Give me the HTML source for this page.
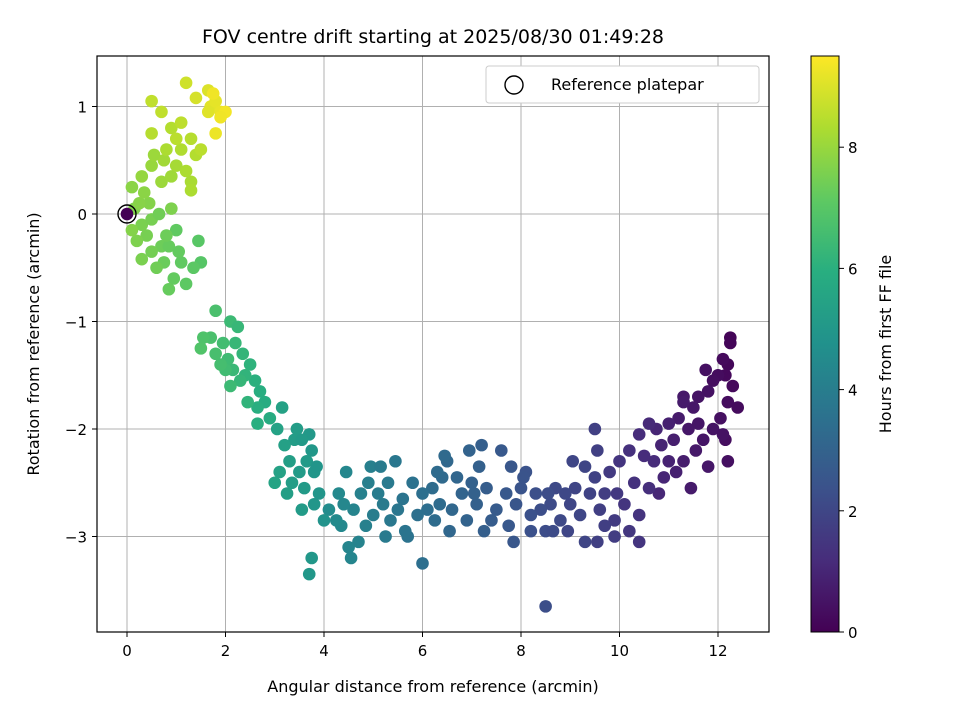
<!DOCTYPE html>
<html><head><meta charset="utf-8"><style>
body{margin:0;background:#fff}
svg{font-family:"DejaVu Sans","Liberation Sans",sans-serif}
</style></head><body>
<svg id="chart" width="960" height="720" viewBox="0 0 960 720">
<defs><linearGradient id="vir" x1="0" y1="1" x2="0" y2="0">
<stop offset="0" stop-color="#440154"/><stop offset="0.125" stop-color="#472d7b"/><stop offset="0.25" stop-color="#3b528b"/><stop offset="0.375" stop-color="#2c728e"/><stop offset="0.5" stop-color="#21918c"/><stop offset="0.625" stop-color="#28ae80"/><stop offset="0.75" stop-color="#5ec962"/><stop offset="0.875" stop-color="#addc30"/><stop offset="1" stop-color="#fde725"/></linearGradient></defs>
<text x="433" y="43" font-size="19" text-anchor="middle">FOV centre drift starting at 2025/08/30 01:49:28</text>
<g id="grid"></g><g id="pts"></g>
<rect x="97" y="56" width="672" height="576" fill="none" stroke="#000" stroke-width="1.2"/>
<g id="axes"></g>
<text x="433" y="692" font-size="16" text-anchor="middle">Angular distance from reference (arcmin)</text>
<text transform="translate(39,344) rotate(-90)" font-size="16" text-anchor="middle">Rotation from reference (arcmin)</text>
<g>
<rect x="486" y="66" width="273" height="37" rx="3" fill="#fff" stroke="#ccc"/>
<circle cx="514" cy="85" r="9" fill="none" stroke="#000" stroke-width="1.4"/>
<text x="551" y="90" font-size="16">Reference platepar</text></g>
<rect x="811" y="56" width="28" height="576" fill="url(#vir)" stroke="#000" stroke-width="1"/>
<g id="cbax"></g>
<text transform="translate(891,344) rotate(-90)" font-size="16" text-anchor="middle">Hours from first FF file</text>
</svg>
<script>
const xs=[12.25,12.25,12.2,12.15,12.3,12.1,12.0,11.9,12.2,12.4,11.75,11.8,11.6,12.05,11.9,12.15,11.5,11.3,11.2,11.4,11.7,12.2,11.55,11.1,11.0,11.3,11.0,10.85,11.45,11.8,12.1,11.6,10.9,11.15,10.75,11.3,
10.6,10.4,10.7,10.5,10.8,10.2,10.3,10.0,10.4,10.2,10.4,9.95,9.8,9.7,9.9,9.6,9.55,9.5,9.9,9.55,9.7,10.1,10.6,9.4,9.3,9.5,9.2,9.3,
9.1,9.0,9.05,8.9,8.8,8.7,8.6,8.5,8.55,8.4,8.3,8.2,8.1,8.0,8.2,8.5,7.9,7.85,7.8,7.7,7.75,8.05,8.65,8.95,
7.6,7.5,7.4,7.3,7.2,7.1,7.15,7.0,6.9,6.95,6.8,6.7,6.6,6.5,6.4,6.35,6.55,6.3,6.2,6.1,7.25,6.45,6.25,7.05,
6.0,5.9,5.8,5.7,5.6,5.5,5.45,5.35,5.3,5.2,5.1,5.0,4.95,4.9,4.85,4.75,4.7,4.6,4.5,4.45,4.4,4.35,4.3,5.25,6.0,5.65,5.15,4.55,4.25,4.1,
4.0,3.9,3.8,3.75,3.7,3.65,3.6,3.5,3.4,3.35,3.3,3.25,3.2,3.1,3.05,3.0,3.55,3.45,3.15,3.7,3.75,3.8,3.55,3.85,
2.9,2.8,2.7,2.65,2.65,2.6,2.5,2.4,2.35,2.3,2.2,2.15,2.1,2.05,2.0,1.95,2.25,1.9,1.8,1.7,1.55,1.5,1.8,2.45,2.1,
1.5,1.45,1.35,1.2,1.1,0.95,0.85,0.75,0.7,0.6,0.5,0.4,0.3,0.2,0.15,0.1,0.3,0.5,0.85,1.0,0.65,0.9,0.45,0.25,0.1,0.35,1.05,0.8,
0.3,0.5,0.7,0.9,0.75,1.0,1.3,0.8,1.1,1.4,1.3,0.9,1.0,1.5,1.3,0.5,0.5,1.1,0.7,1.2,1.4,1.65,1.7,1.8,1.9,1.75,2.0,1.9,1.8,1.65,1.2,0.55,0];
const ys=[-1.15,-1.2,-1.4,-1.5,-1.6,-1.35,-1.5,-1.55,-1.75,-1.8,-1.45,-1.65,-1.7,-1.9,-2.0,-2.1,-1.8,-1.7,-1.9,-2.0,-2.1,-2.3,-2.2,-2.1,-1.95,-2.3,-2.3,-2.15,-2.55,-2.35,-2.05,-1.95,-2.45,-2.4,-2.0,-1.75,
-1.95,-2.05,-2.3,-2.25,-2.6,-2.2,-2.5,-2.3,-2.8,-2.95,-3.05,-2.6,-2.4,-2.6,-2.85,-2.75,-2.2,-2.45,-3.0,-3.05,-2.9,-2.7,-2.55,-2.6,-2.35,-2.0,-2.8,-3.05,
-2.55,-2.7,-2.3,-2.6,-2.85,-2.55,-2.7,-2.95,-2.6,-2.75,-2.6,-2.8,-2.4,-2.55,-2.95,-3.65,-2.7,-3.05,-2.35,-2.6,-2.9,-2.45,-2.95,-2.95,
-2.2,-2.75,-2.85,-2.55,-2.15,-2.7,-2.35,-2.5,-2.85,-2.2,-2.6,-2.45,-2.75,-2.3,-2.45,-2.7,-2.95,-2.4,-2.55,-2.75,-2.95,-2.25,-2.85,-2.6,
-2.6,-2.8,-2.5,-3.0,-2.65,-2.75,-2.3,-2.85,-2.5,-2.7,-2.6,-2.8,-2.35,-2.5,-2.9,-2.6,-3.05,-2.75,-3.1,-2.4,-2.7,-2.9,-2.6,-3.0,-3.25,-2.95,-2.35,-3.2,-2.85,-2.75,
-2.85,-2.6,-2.4,-2.2,-2.05,-2.3,-2.55,-2.4,-2.1,-2.5,-2.3,-2.6,-2.15,-2.4,-2.0,-2.5,-2.75,-2.0,-1.8,-3.35,-3.2,-2.7,-2.1,-2.35,
-1.9,-1.75,-1.65,-1.8,-1.95,-1.55,-1.4,-1.5,-1.3,-1.55,-1.2,-1.45,-1.0,-1.35,-1.45,-1.2,-1.05,-1.4,-1.3,-1.15,-1.15,-1.25,-0.9,-1.75,-1.6,
-0.45,-0.25,-0.5,-0.65,-0.45,-0.6,-0.7,-0.45,-0.3,-0.5,-0.35,-0.2,-0.1,-0.25,0.05,-0.15,-0.42,-0.05,-0.3,-0.15,0.0,0.05,0.1,0.1,0.25,0.2,-0.35,-0.2,
0.35,0.45,0.3,0.35,0.5,0.45,0.3,0.6,0.6,0.55,0.7,0.8,0.7,0.6,0.22,0.75,1.05,0.85,0.95,1.22,1.08,1.15,1.0,1.05,0.95,1.12,0.95,0.9,0.75,0.95,0.4,0.55,0];
const hours=[0.1,0.12,0.15,0.2,0.22,0.25,0.3,0.35,0.3,0.28,0.4,0.45,0.5,0.4,0.5,0.35,0.6,0.65,0.7,0.6,0.55,0.4,0.65,0.8,0.85,0.75,0.9,0.95,0.7,0.6,0.45,0.55,1.0,0.85,1.0,0.7,
1.1,1.2,1.15,1.2,1.05,1.3,1.35,1.45,1.4,1.5,1.45,1.55,1.6,1.7,1.65,1.75,1.8,1.85,1.7,1.8,1.75,1.45,1.25,1.9,1.95,1.8,2.0,1.95,
1.95,2.0,2.0,2.05,2.1,2.1,2.15,2.2,2.2,2.25,2.3,2.35,2.4,2.45,2.35,2.25,2.5,2.55,2.55,2.6,2.6,2.45,2.15,2.0,
2.65,2.7,2.75,2.8,2.85,2.9,2.9,2.95,3.0,3.0,3.05,3.1,3.15,3.2,3.25,3.3,3.15,3.3,3.35,3.4,2.85,3.25,3.35,2.95,
3.45,3.5,3.55,3.6,3.65,3.7,3.75,3.8,3.85,3.9,3.95,4.0,4.05,4.05,4.1,4.15,4.2,4.25,4.3,4.35,4.35,4.4,4.45,3.85,3.45,3.65,3.9,4.3,4.5,4.55,
4.85,4.9,4.95,5.0,5.05,5.1,5.1,5.15,5.2,5.25,5.3,5.3,5.35,5.4,5.45,5.5,5.15,5.2,5.4,5.0,5.0,4.95,5.1,4.9,
5.8,5.85,5.9,5.95,5.95,6.0,6.1,6.15,6.2,6.25,6.3,6.35,6.4,6.45,6.5,6.55,6.3,6.6,6.65,6.7,6.8,6.85,6.7,6.15,6.4,
6.95,7.0,7.05,7.1,7.15,7.2,7.25,7.3,7.35,7.4,7.45,7.5,7.55,7.6,7.65,7.7,7.55,7.5,7.25,7.15,7.4,7.6,7.7,7.75,7.8,7.8,7.2,7.35,
7.95,8.0,8.05,8.1,8.15,8.2,8.25,8.3,8.35,8.4,8.45,8.4,8.5,8.5,8.3,8.45,8.6,8.55,8.6,8.8,8.9,9.0,9.1,9.15,9.2,9.3,9.35,9.3,9.25,9.05,8.3,8.05,0];
const xTicks=[0,2,4,6,8,10,12], yTicks=[1,0,-1,-2,-3], cTicks=[0,2,4,6,8];
const NS='http://www.w3.org/2000/svg';
const X=v=>127+v*49.25, Y=v=>214-v*107.5, C=v=>632-v*60.6;
const stops=['#440154','#472d7b','#3b528b','#2c728e','#21918c','#28ae80','#5ec962','#addc30','#fde725'];
function hex(c){return [1,3,5].map(i=>parseInt(c.substr(i,2),16));}
function vir(h){let t=Math.max(0,Math.min(1,h/9.5))*8;let i=Math.min(7,Math.floor(t)),f=t-i;let a=hex(stops[i]),b=hex(stops[i+1]);return 'rgb('+a.map((v,k)=>Math.round(v+(b[k]-v)*f)).join(',')+')';}
function mk(tag,attrs,parent){const e=document.createElementNS(NS,tag);for(const k in attrs)e.setAttribute(k,attrs[k]);document.getElementById(parent).appendChild(e);return e;}
xTicks.forEach(t=>{
 const g=mk('line',{x1:X(t),x2:X(t),y1:56,y2:632,stroke:'#b0b0b0','stroke-width':1},'grid');
 
 
 mk('line',{x1:X(t),x2:X(t),y1:632,y2:637,stroke:'#000'},'axes');
 const l=mk('text',{x:X(t),y:656,'font-size':15,'text-anchor':'middle'},'axes');l.textContent=t;
 
 
});
yTicks.forEach(t=>{
 const g=mk('line',{x1:97,x2:769,y1:Y(t),y2:Y(t),stroke:'#b0b0b0','stroke-width':1},'grid');
 
 
 mk('line',{x1:92,x2:97,y1:Y(t),y2:Y(t),stroke:'#000'},'axes');
 const l=mk('text',{x:87,y:Y(t)+6,'font-size':15,'text-anchor':'end'},'axes');l.textContent=t<0?'\u2212'+(-t):t;
 
 
});
cTicks.forEach(t=>{
 mk('line',{x1:839,x2:844,y1:C(t),y2:C(t),stroke:'#000'},'cbax');
 const l=mk('text',{x:848,y:C(t)+6,'font-size':15},'cbax');l.textContent=t;
 
 
});
for(let i=0;i<xs.length;i++){
 const c=mk('circle',{cx:X(xs[i]),cy:Y(ys[i]),r:6.3,fill:vir(hours[i])},'pts');
 
 
}
const ref=mk('circle',{cx:X(0),cy:Y(0),r:9,fill:'none',stroke:'#000','stroke-width':1.4},'pts');


</script>
</body></html>
